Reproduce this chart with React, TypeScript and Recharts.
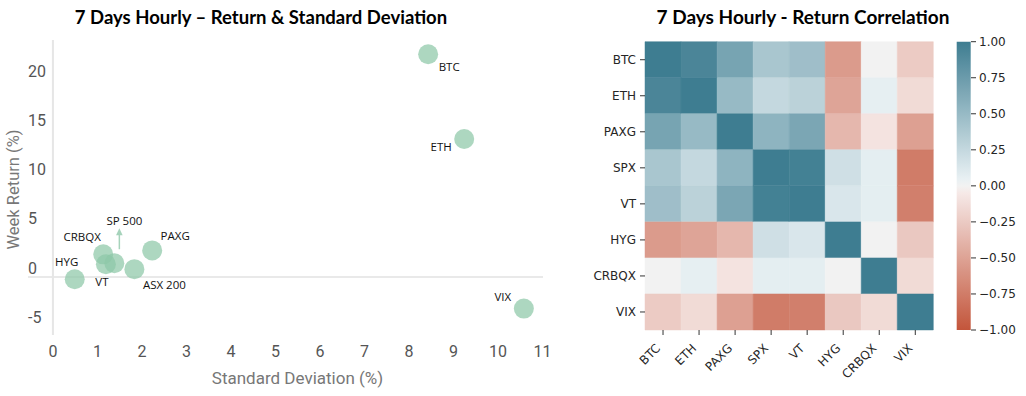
import React from 'react';
import { ScatterChart, Scatter, XAxis, YAxis, ReferenceLine, BarChart, Bar, Cell } from 'recharts';

// ---------- Scatter data ----------
const assets = ['BTC', 'ETH', 'VIX', 'HYG', 'CRBQX', 'VT', 'SP 500', 'ASX 200', 'PAXG'];
const stdDev = [8.43, 9.24, 10.58, 0.49, 1.13, 1.19, 1.38, 1.83, 2.23];
const weekReturn = [22.6, 14.0, -3.2, -0.23, 2.3, 1.3, 1.4, 0.8, 2.7];
const xTicks = [0, 1, 2, 3, 4, 5, 6, 7, 8, 9, 10, 11];
const yTicks = [-5, 0, 5, 10, 15, 20];

// ---------- Correlation data ----------
const corrLabels = ['BTC', 'ETH', 'PAXG', 'SPX', 'VT', 'HYG', 'CRBQX', 'VIX'];
const corrBTC = [1, 0.93, 0.68, 0.4, 0.46, -0.55, 0.0, -0.24];
const corrETH = [0.93, 1, 0.5, 0.25, 0.3, -0.49, 0.06, -0.14];
const corrPAXG = [0.68, 0.5, 1, 0.55, 0.66, -0.37, -0.09, -0.52];
const corrSPX = [0.4, 0.25, 0.55, 1, 0.97, 0.19, 0.07, -0.75];
const corrVT = [0.46, 0.3, 0.66, 0.97, 1, 0.13, 0.07, -0.73];
const corrHYG = [-0.55, -0.49, -0.37, 0.19, 0.13, 1, 0.0, -0.26];
const corrCRBQX = [0.0, 0.06, -0.09, 0.07, 0.07, 0.0, 1, -0.14];
const corrVIX = [-0.24, -0.14, -0.52, -0.75, -0.73, -0.26, -0.14, 1];
const corrMatrix = [corrBTC, corrETH, corrPAXG, corrSPX, corrVT, corrHYG, corrCRBQX, corrVIX];
const colorbarTicks = [-1, -0.75, -0.5, -0.25, 0, 0.25, 0.5, 0.75, 1];

// ---------- styling helpers ----------
const RED = [195, 85, 59];
const RED_LIGHT = [246, 234, 232];
const MID = [242, 242, 242];
const BLUE_LIGHT = [233, 241, 244];
const TEAL = [62, 125, 145];

function lerp(a: number[], b: number[], f: number) {
  const c = a.map((v, i) => Math.round(v + (b[i] - v) * f));
  return `rgb(${c[0]},${c[1]},${c[2]})`;
}
function corrColor(v: number) {
  const t = (v + 1) / 2;
  const a = 122 / 255;
  const b = 133 / 255;
  if (t <= a) return lerp(RED, RED_LIGHT, t / a);
  if (t < b) return lerp(MID, MID, 0);
  return lerp(BLUE_LIGHT, TEAL, Math.min(1, (t - b) / (1 - b)));
}

const labelOffsets: Record<string, [number, number]> = {
  BTC: [21, 12],
  ETH: [-23, 8],
  VIX: [-21, -12],
  HYG: [-8, -18],
  CRBQX: [-21, -18],
  VT: [-4, 17],
  'SP 500': [10, -43],
  'ASX 200': [30, 15],
  PAXG: [23, -15],
};

const scatterData = assets.map((name, i) => ({ name, x: stdDev[i], y: weekReturn[i] }));
const heatRows = corrLabels.map((name) => {
  const row: any = { name };
  corrLabels.forEach((_, i) => (row['c' + i] = 1));
  return row;
});
const colorbarData = [{ name: 'cb', range: [-1, 1] }];

const Dot = (p: any) => (
  <circle cx={p.cx} cy={p.cy} r={10} fill="#8ec8a8" fillOpacity={0.72} />
);

const PointLabel = (p: any) => {
  const name = p.payload.name;
  const [dx, dy] = labelOffsets[name] || [0, 0];
  return (
    <g>
      {name === 'SP 500' && (
        <g>
          <line x1={p.cx + 5} y1={p.cy - 14} x2={p.cx + 5} y2={p.cy - 29} stroke="#a6d3bb" strokeWidth={1.5} />
          <polygon
            points={`${p.cx + 5},${p.cy - 35} ${p.cx + 1.7},${p.cy - 28} ${p.cx + 8.3},${p.cy - 28}`}
            fill="#a6d3bb"
          />
        </g>
      )}
      <text
        x={p.cx + dx}
        y={p.cy + dy}
        textAnchor="middle"
        dominantBaseline="central"
        fontSize={11.5}
        fontFamily="'Open Sans'"
        fill="#111"
      >
        {name}
      </text>
    </g>
  );
};

const YTickLeft = (p: any) => (
  <text x={28} y={p.y - 9} dy="0.355em" textAnchor="start" fill="#555" fontSize={16} fontFamily="Roboto">
    {p.payload.value}
  </text>
);

const HeatXTick = (p: any) => {
  const name = corrLabels[Math.floor(p.payload.value)];
  const x = p.x - 2;
  const y = p.y + 12;
  return (
    <text
      x={x}
      y={y}
      transform={`rotate(-45 ${x} ${y})`}
      textAnchor="end"
      fill="#262626"
      fontSize={12}
      fontFamily="'DejaVu Sans'"
    >
      {name}
    </text>
  );
};

const fmtCb = (v: number) => (v < 0 ? '\u2212' + Math.abs(v).toFixed(2) : v.toFixed(2));

// gradient from top (+1) to bottom (-1), offsets increasing
const gradStops: number[] = [];
for (let k = 0; k <= 40; k++) gradStops.push(1 - k * 0.05);

const titleStyle: React.CSSProperties = {
  position: 'absolute',
  top: 5,
  textAlign: 'center',
  fontFamily: 'Lato',
  fontWeight: 'bold',
  fontSize: 18.5,
  lineHeight: '24px',
  color: '#000',
  whiteSpace: 'nowrap',
};

export default function App() {
  return (
    <div style={{ position: 'absolute', left: 0, top: 0, width: 1026, height: 396, background: '#fff' }}>
      <div style={{ ...titleStyle, left: 0, width: 522 }}>7 Days Hourly – Return &amp; Standard Deviation</div>
      <div style={{ ...titleStyle, left: 603, width: 400, fontSize: 19 }}>7 Days Hourly - Return Correlation</div>

      <div style={{ position: 'absolute', left: 0, top: 0 }}>
        <ScatterChart width={560} height={396} margin={{ top: 40, right: 17, bottom: 6, left: 0 }}>
          <XAxis
            type="number"
            dataKey="x"
            domain={[-0.56, 11.01]}
            allowDataOverflow
            ticks={xTicks}
            interval={0}
            axisLine={false}
            tickLine={false}
            tickSize={0}
            tickMargin={11}
            height={55}
            tick={{ fill: '#555', fontSize: 16, fontFamily: 'Roboto' }}
            label={{
              value: 'Standard Deviation (%)',
              position: 'insideBottom',
              offset: 6,
              dx: 12,
              fill: '#777',
              fontSize: 17,
              fontFamily: 'Roboto',
            }}
          />
          <YAxis
            type="number"
            dataKey="y"
            domain={[-5.88, 24.04]}
            allowDataOverflow
            ticks={yTicks}
            interval={0}
            axisLine={false}
            tickLine={false}
            width={28}
            tick={<YTickLeft />}
            label={{
              value: 'Week Return (%)',
              angle: -90,
              position: 'center',
              dx: -1,
              dy: 2,
              fill: '#777',
              fontSize: 16.5,
              fontFamily: 'Roboto',
            }}
          />
          <ReferenceLine y={0} stroke="#e2e2e2" strokeWidth={1.5} />
          <ReferenceLine x={0} stroke="#e6e6e6" strokeWidth={2} />
          <Scatter data={scatterData} shape={<Dot />} isAnimationActive={false} />
          <Scatter data={scatterData} shape={<PointLabel />} isAnimationActive={false} />
        </ScatterChart>
      </div>

      <div style={{ position: 'absolute', left: 580, top: 0 }}>
        <BarChart
          layout="vertical"
          width={360}
          height={396}
          data={heatRows}
          margin={{ top: 41.7, right: 6.7, bottom: 6, left: 5 }}
          barCategoryGap={0}
          barGap={0}
        >
          <XAxis
            type="number"
            domain={[0, 8]}
            ticks={[0.5, 1.5, 2.5, 3.5, 4.5, 5.5, 6.5, 7.5]}
            interval={0}
            height={60}
            axisLine={false}
            tickSize={5}
            tickMargin={2}
            tickLine={{ stroke: '#333' }}
            tick={<HeatXTick />}
          />
          <YAxis
            type="category"
            dataKey="name"
            width={60}
            interval={0}
            axisLine={false}
            tickSize={5}
            tickMargin={4}
            tickLine={{ stroke: '#333' }}
            tick={{ fill: '#262626', fontSize: 12, fontFamily: 'DejaVu Sans' }}
          />
          {corrLabels.map((col, ci) => (
            <Bar key={col} dataKey={'c' + ci} stackId="h" isAnimationActive={false}>
              {corrMatrix.map((row, ri) => (
                <Cell key={ri} fill={corrColor(row[ci])} stroke={corrColor(row[ci])} strokeWidth={0.5} />
              ))}
            </Bar>
          ))}
        </BarChart>
      </div>

      <div style={{ position: 'absolute', left: 940, top: 0 }}>
        <BarChart
          width={86}
          height={396}
          data={colorbarData}
          margin={{ top: 41.7, right: 0, bottom: 66, left: 16.7 }}
          barCategoryGap={0}
        >
          <defs>
            <linearGradient id="cbGrad" x1="0" y1="0" x2="0" y2="1">
              {gradStops.map((v, i) => (
                <stop key={i} offset={`${((1 - v) / 2) * 100}%`} stopColor={corrColor(v)} />
              ))}
            </linearGradient>
          </defs>
          <XAxis dataKey="name" hide />
          <YAxis
            orientation="right"
            type="number"
            domain={[-1, 1]}
            ticks={colorbarTicks}
            interval={0}
            width={55}
            axisLine={false}
            tickSize={5}
            tickMargin={3}
            tickLine={{ stroke: '#333' }}
            tickFormatter={fmtCb}
            tick={{ fill: '#262626', fontSize: 12, fontFamily: 'DejaVu Sans' }}
          />
          <Bar dataKey="range" fill="url(#cbGrad)" isAnimationActive={false} />
        </BarChart>
      </div>
    </div>
  );
}
